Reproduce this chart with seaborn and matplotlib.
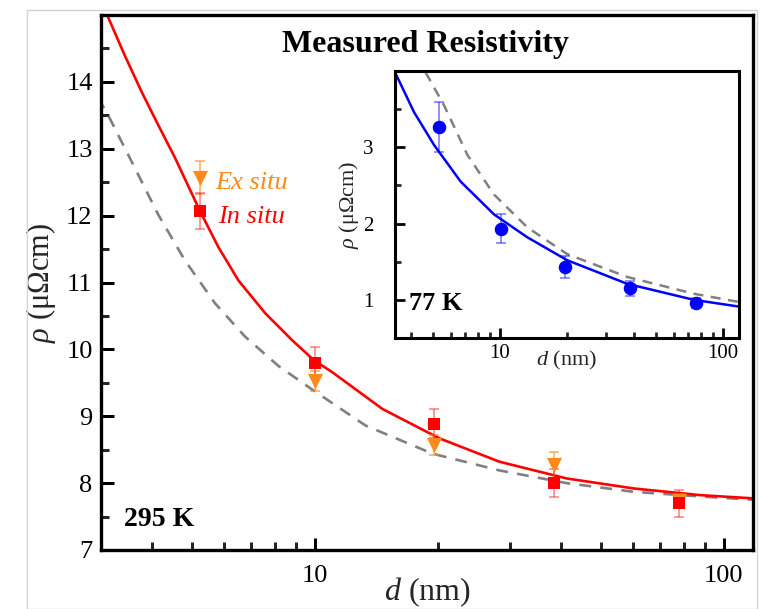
import matplotlib
matplotlib.use("Agg")
import matplotlib.pyplot as plt
import matplotlib.ticker as mticker
from matplotlib.patches import Rectangle
import numpy as np
import pandas as pd
import seaborn as sns

# ---------------- data ----------------
d_pts = [5.24, 10.0, 19.6, 38.5, 78.0]
rho_insitu = [12.07, 9.80, 8.89, 8.00, 7.70]
err_insitu = [0.27, 0.23, 0.22, 0.21, 0.20]
rho_exsitu = [12.57, 9.53, 8.57, 8.27, 7.73]
err_exsitu = [0.25, 0.15, 0.15, 0.20, 0.10]

# fitted curve (295 K, in situ)
fit_red_d = [3.106, 3.427, 3.765, 4.137, 4.547, 5.238, 5.81, 6.507, 7.566, 8.796, 9.94,
             11.03, 14.63, 20.17, 28.3, 41.3, 60.3, 87.8, 119.8]
fit_red_rho = [15.0, 14.40, 13.86, 13.36, 12.87, 12.07, 11.53, 11.03, 10.54, 10.14, 9.84,
               9.66, 9.11, 8.67, 8.32, 8.07, 7.92, 7.82, 7.77]
# dashed reference curve (295 K)
fit_gray_d = [2.95, 3.118, 3.557, 4.137, 4.813, 5.70, 6.755, 8.157, 9.85,
              13.32, 19.42, 28.3, 41.3, 60.3, 87.8, 119.8]
fit_gray_rho = [13.76, 13.51, 12.82, 12.02, 11.33, 10.69, 10.19, 9.75, 9.40,
                8.86, 8.44, 8.19, 8.0, 7.87, 7.80, 7.75]

# inset (77 K)
d_in = [5.33, 10.07, 19.5, 38.3, 76.0]
rho_77 = [3.27, 1.93, 1.43, 1.15, 0.96]
err_77 = [0.33, 0.19, 0.14, 0.10, 0.07]
fit_blue_d = [3.41, 4.115, 5.06, 6.66, 9.40, 13.26, 20.0, 37.2, 74.1, 119.0]
fit_blue_rho = [3.96, 3.46, 3.03, 2.55, 2.12, 1.82, 1.52, 1.21, 1.0, 0.91]
fit_gray2_d = [4.64, 5.61, 7.14, 9.40, 13.26, 20.0, 37.2, 74.1, 119.0]
fit_gray2_rho = [3.98, 3.55, 2.90, 2.38, 1.95, 1.60, 1.30, 1.08, 0.97]

main_yticks = [7, 8, 9, 10, 11, 12, 13, 14]
inset_yticks = [1, 2, 3]
x_ticks = [10, 100]

# ---------------- style ----------------
sns.set_theme(style="ticks")
plt.rcParams["font.family"] = ["Liberation Serif", "DejaVu Serif"]
plt.rcParams["mathtext.fontset"] = "custom"
plt.rcParams["mathtext.rm"] = "Liberation Serif"
plt.rcParams["mathtext.it"] = "Liberation Serif:italic"
plt.rcParams["mathtext.bf"] = "Liberation Serif:bold"
plt.rcParams["lines.solid_joinstyle"] = "round"
plt.rcParams["lines.dash_joinstyle"] = "round"

RED = "#ff0000"
ORANGE = "#ff8a1c"
BLUE = "#0000ff"
GRAY = "#808080"

W, H = 760, 609
fig = plt.figure(figsize=(7.6, 6.09), dpi=100)
fig.patches.append(Rectangle((27 / W, 0), 730 / W, 1 - 10 / H, transform=fig.transFigure,
                             fill=False, edgecolor="#d4d4d4", linewidth=1.0))


def frac(l, t, r, b):
    return [l / W, 1 - b / H, (r - l) / W, (b - t) / H]


ax = fig.add_axes(frac(101, 15, 753, 550))
axi = fig.add_axes(frac(395, 71, 739, 338))


def style_axes(a, lw, maj, minl, lab, xpad, ypad):
    for s in a.spines.values():
        s.set_linewidth(lw)
        s.set_color("black")
    a.tick_params(which="major", direction="in", length=maj, width=lw * 0.9,
                  labelsize=lab, top=False, right=False, colors="black")
    a.tick_params(which="minor", direction="in", length=minl, width=lw * 0.9,
                  top=False, right=False)
    a.tick_params(axis="x", which="major", pad=xpad)
    a.tick_params(axis="y", which="major", pad=ypad)
    a.set_facecolor("white")
    a.grid(False)


def log_x(a, lo, hi):
    a.set_xscale("log")
    a.set_xlim(lo, hi)
    a.set_xticks(x_ticks)
    a.xaxis.set_major_formatter(mticker.FixedFormatter([str(v) for v in x_ticks]))
    a.xaxis.set_minor_locator(mticker.LogLocator(base=10, subs=np.arange(2, 10)))
    a.xaxis.set_minor_formatter(mticker.NullFormatter())


# ---------------- main axes ----------------
df_red = pd.DataFrame({"d": fit_red_d, "rho": fit_red_rho})
df_gray = pd.DataFrame({"d": fit_gray_d, "rho": fit_gray_rho})
sns.lineplot(data=df_gray, x="d", y="rho", ax=ax, color=GRAY, lw=1.9,
             linestyle=(0, (4.5, 3.5)), sort=False)
sns.lineplot(data=df_red, x="d", y="rho", ax=ax, color=RED, lw=1.9, sort=False)

ax.errorbar(d_pts, rho_exsitu, yerr=err_exsitu, fmt="none", ecolor=ORANGE, alpha=0.7,
            elinewidth=1.1, capsize=3.6, capthick=1.1, zorder=3)
ax.errorbar(d_pts, rho_insitu, yerr=err_insitu, fmt="none", ecolor=RED, alpha=0.5,
            elinewidth=1.1, capsize=3.6, capthick=1.1, zorder=3)
df_ex = pd.DataFrame({"d": d_pts, "rho": rho_exsitu})
df_in = pd.DataFrame({"d": d_pts, "rho": rho_insitu})
sns.scatterplot(data=df_ex, x="d", y="rho", ax=ax, marker="v", s=120, color=ORANGE,
                edgecolor=ORANGE, linewidth=0, zorder=4)
sns.scatterplot(data=df_in, x="d", y="rho", ax=ax, marker="s", s=65, color=RED,
                edgecolor=RED, linewidth=0, zorder=5)

log_x(ax, 3.0, 118)
ax.set_ylim(7, 15)
ax.set_yticks(main_yticks)
ax.yaxis.set_minor_locator(mticker.MultipleLocator(0.5))
style_axes(ax, 2.4, 9, 5.5, 19, 10.5, 6)
ax.set_xlabel(r"$d$ (nm)", fontsize=23, labelpad=-8)
ax.set_ylabel(r"$\rho$ (μΩcm)", fontsize=22, labelpad=6)

ax.text(0.497, 0.944, "Measured Resistivity", transform=ax.transAxes, ha="center",
        va="center", fontsize=23, fontweight="bold", color="black")
ax.text(0.036, 0.057, "295 K", transform=ax.transAxes, fontsize=20, fontweight="bold",
        ha="left", va="center", color="black")

# ---------------- inset ----------------
df_blue = pd.DataFrame({"d": fit_blue_d, "rho": fit_blue_rho})
df_gray2 = pd.DataFrame({"d": fit_gray2_d, "rho": fit_gray2_rho})
sns.lineplot(data=df_gray2, x="d", y="rho", ax=axi, color=GRAY, lw=1.8,
             linestyle=(0, (4, 3)), sort=False)
sns.lineplot(data=df_blue, x="d", y="rho", ax=axi, color=BLUE, lw=1.8, sort=False)
axi.errorbar(d_in, rho_77, yerr=err_77, fmt="none", ecolor=BLUE, alpha=0.55,
             elinewidth=1.1, capsize=3.6, capthick=1.1, zorder=3)
df_77 = pd.DataFrame({"d": d_in, "rho": rho_77})
sns.scatterplot(data=df_77, x="d", y="rho", ax=axi, marker="o", s=95, color=BLUE,
                edgecolor=BLUE, linewidth=0, zorder=5)
log_x(axi, 3.38, 118)
axi.set_ylim(0.5, 4.0)
axi.set_yticks(inset_yticks)
axi.yaxis.set_minor_locator(mticker.MultipleLocator(0.5))
style_axes(axi, 2.2, 7, 4.5, 15, 4, 15.5)
axi.set_xlabel(r"$d$ (nm)", fontsize=16, labelpad=-10)
axi.set_ylabel(r"$\rho$ (μΩcm)", fontsize=16, labelpad=1.5)
axi.text(0.04, 0.13, "77 K", transform=axi.transAxes, fontsize=19, fontweight="bold",
         ha="left", va="center", color="black")

fig.text(215 / W, 1 - 183 / H, "Ex situ", fontsize=19, fontstyle="italic", color=ORANGE,
         va="center", ha="left")
fig.text(218 / W, 1 - 217 / H, "In situ", fontsize=19, fontstyle="italic", color=RED,
         va="center", ha="left")

fig.savefig("out.png", dpi=100)
